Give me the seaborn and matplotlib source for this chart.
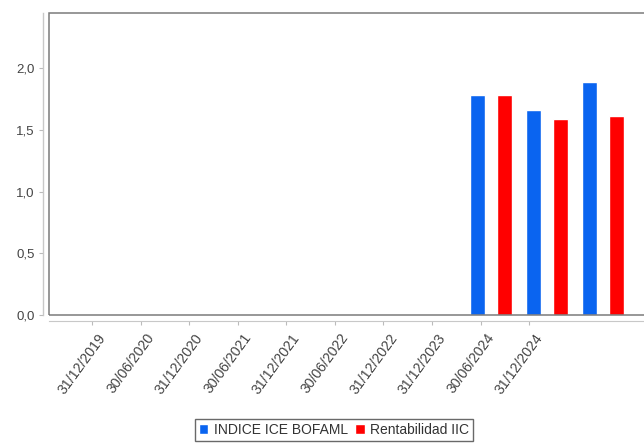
import pandas as pd
import numpy as np
import matplotlib
matplotlib.use("Agg")
import matplotlib.pyplot as plt
import matplotlib.transforms as mtransforms
from matplotlib.patches import Rectangle
from matplotlib.ticker import FuncFormatter
import seaborn as sns

# data
tick_dates = ["31/12/2019", "30/06/2020", "31/12/2020", "30/06/2021", "31/12/2021",
              "30/06/2022", "31/12/2022", "31/12/2023", "30/06/2024", "31/12/2024"]
bar_dates = ["31/12/2023", "30/06/2024", "31/12/2024"]
indice_ice = [1.78, 1.66, 1.89]
rent_iic = [1.78, 1.59, 1.61]
series_names = ["INDICE ICE BOFAML", "Rentabilidad IIC"]
colors = ["#0a64f0", "#ff0000"]

df = pd.DataFrame({
    "fecha": bar_dates * 2,
    "serie": [series_names[0]] * 3 + [series_names[1]] * 3,
    "valor": indice_ice + rent_iic,
})

sns.set_style("white")
plt.rcParams["font.family"] = ["Liberation Sans", "DejaVu Sans"]

W, H = 644, 445
fig = plt.figure(figsize=(W / 100, H / 100), dpi=100)
left_px, right_px, top_px, bottom_px = 49, 646, 12.7, 315
ax = fig.add_axes([left_px / W, 1 - bottom_px / H,
                   (right_px - left_px) / W, (bottom_px - top_px) / H])

sns.barplot(data=df, x="fecha", y="valor", hue="serie", order=bar_dates,
            hue_order=series_names, palette=colors, width=0.98, gap=0.47,
            ax=ax, saturation=1)

# bar groups are spaced 56 px, first group centred at x=491 px
cat_px = 56.0
ax.set_xlim(-(491 - left_px) / cat_px, 2 + (right_px - 603) / cat_px)
ax.set_ylim(0, 2.45)
ax.set_xticks([])
ax.set_xlabel("")
ax.set_ylabel("")
ax.set_yticks(np.arange(0, 2.01, 0.5))
ax.yaxis.set_major_formatter(FuncFormatter(lambda v, p: f"{v:.1f}".replace(".", ",")))
ax.tick_params(axis="y", length=3, width=0.8, color="#bbbbbb", labelsize=9.5,
               labelcolor="#444444", pad=3, left=True)

for s in ["top", "right", "bottom"]:
    ax.spines[s].set_visible(False)
ax.spines["left"].set_position(("outward", 4.5))
ax.spines["left"].set_color("#c8c8c8")
ax.spines["left"].set_linewidth(1.0)

# plot area frame
ax.add_patch(Rectangle((0, 0), 1, 1, transform=ax.transAxes, fill=False,
                       edgecolor="#7a7a7a", linewidth=1.1, clip_on=False, zorder=5))

# date axis
ax2 = ax.twiny()
ax2.xaxis.set_ticks_position("bottom")
ax2.xaxis.set_label_position("bottom")
tick_px = 48.6
ax2.set_xlim(-(92 - left_px) / tick_px, 9 + (right_px - 529) / tick_px)
ax2.set_xticks(range(len(tick_dates)))
ax2.set_xticklabels(tick_dates)
ax2.tick_params(axis="x", length=3, width=0.8, color="#bbbbbb", labelsize=10.2,
                labelcolor="#444444", pad=7, bottom=True, labelbottom=True,
                top=False, labeltop=False)
for s in ["top", "right", "left"]:
    ax2.spines[s].set_visible(False)
ax2.spines["bottom"].set_position(("outward", 4.5))
ax2.spines["bottom"].set_color("#c8c8c8")
offset = mtransforms.ScaledTranslation(11 / 100, 0, fig.dpi_scale_trans)
for tick in ax2.xaxis.get_major_ticks():
    lab = tick.label1
    lab.set_rotation(54)
    lab.set_ha("right")
    lab.set_va("center")
    lab.set_rotation_mode("anchor")
    lab.set_transform(lab.get_transform() + offset)

handles, labels = ax.get_legend_handles_labels()
if ax.get_legend() is not None:
    ax.get_legend().remove()
fig.legend(handles, labels, loc="center", bbox_to_anchor=(334 / W, 1 - 430 / H),
           ncol=2, frameon=True, fancybox=False, edgecolor="#444444",
           fontsize=10, handlelength=0.7, handleheight=0.7, handletextpad=0.4,
           columnspacing=0.5, borderpad=0.3, borderaxespad=0, labelcolor="#333333")
fig.legends[0].get_frame().set_linewidth(1.0)

fig.savefig("out.png", dpi=100)
